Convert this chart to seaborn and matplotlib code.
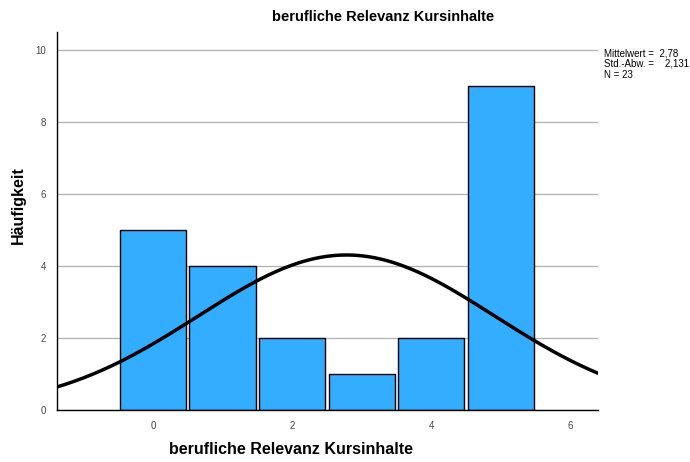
import numpy as np
import pandas as pd
import matplotlib
matplotlib.use('Agg')
import matplotlib.pyplot as plt
import seaborn as sns

# Scores and how often each was given
scores = [0, 1, 2, 3, 4, 5]
counts = [5, 4, 2, 1, 2, 9]
x_ticks = [0, 2, 4, 6]
y_ticks = [0, 2, 4, 6, 8, 10]
title = "berufliche Relevanz Kursinhalte"

sns.set_style("white")
plt.rcParams['font.family'] = ['Liberation Sans', 'DejaVu Sans']
plt.rcParams['text.color'] = 'black'

df = pd.DataFrame({"score": scores, "count": counts})
n = df["count"].sum()
mean = np.average(df["score"], weights=df["count"])
std = np.sqrt(np.sum(df["count"] * (df["score"] - mean) ** 2) / (n - 1))

fig = plt.figure(figsize=(6.9, 4.62), dpi=100)
ax = fig.add_axes([0.0826, 0.1126, 0.7841, 0.8181])

sns.histplot(data=df, x="score", weights="count", discrete=True, shrink=0.95,
             color="#33adff", alpha=1, edgecolor="black", linewidth=1, ax=ax, zorder=2)

# normal curve scaled to the counts (bin width 1)
xs = np.linspace(-1.4, 6.4, 300)
curve = pd.DataFrame({"x": xs,
                      "y": n / (std * np.sqrt(2 * np.pi)) * np.exp(-0.5 * ((xs - mean) / std) ** 2)})
sns.lineplot(data=curve, x="x", y="y", color="black", linewidth=2.5, ax=ax, zorder=3)

ax.set_xlim(-1.38, 6.4)
ax.set_ylim(0, 10.5)
ax.set_xticks(x_ticks)
ax.set_yticks(y_ticks)
ax.tick_params(length=0, labelsize=7, colors="#444444", pad=8)
ax.yaxis.grid(True, color="#b0b0b0", linewidth=0.9, zorder=0)
ax.set_axisbelow(True)
for s in ["top", "right"]:
    ax.spines[s].set_visible(False)
for s in ["left", "bottom"]:
    ax.spines[s].set_color("black")
    ax.spines[s].set_linewidth(1)
ax.set_xlabel("")
ax.set_ylabel("")

fig.text(383 / 690, 1 - 17 / 462, title, ha="center", va="center", fontsize=10.5, fontweight="bold")
fig.text(291 / 690, 1 - 449 / 462, title, ha="center", va="center", fontsize=11.5, fontweight="bold")
fig.text(18 / 690, 1 - 205 / 462, "Häufigkeit", ha="center", va="center", rotation=90,
         fontsize=11.5, fontweight="bold")

stats = [("Mittelwert =", f"{mean:.2f}".replace(".", ",")),
         ("Std.-Abw. =", f"{std:.3f}".replace(".", ",")),
         ("N =", str(n))]
fig.text(604 / 690, 1 - 53 / 462, f"{stats[0][0]}  {stats[0][1]}", fontsize=7, va="center")
fig.text(604 / 690, 1 - 64 / 462, f"{stats[1][0]}    {stats[1][1]}", fontsize=7, va="center")
fig.text(604 / 690, 1 - 75 / 462, f"{stats[2][0]} {stats[2][1]}", fontsize=7, va="center")

fig.savefig("out.png", dpi=100)
plt.close()
